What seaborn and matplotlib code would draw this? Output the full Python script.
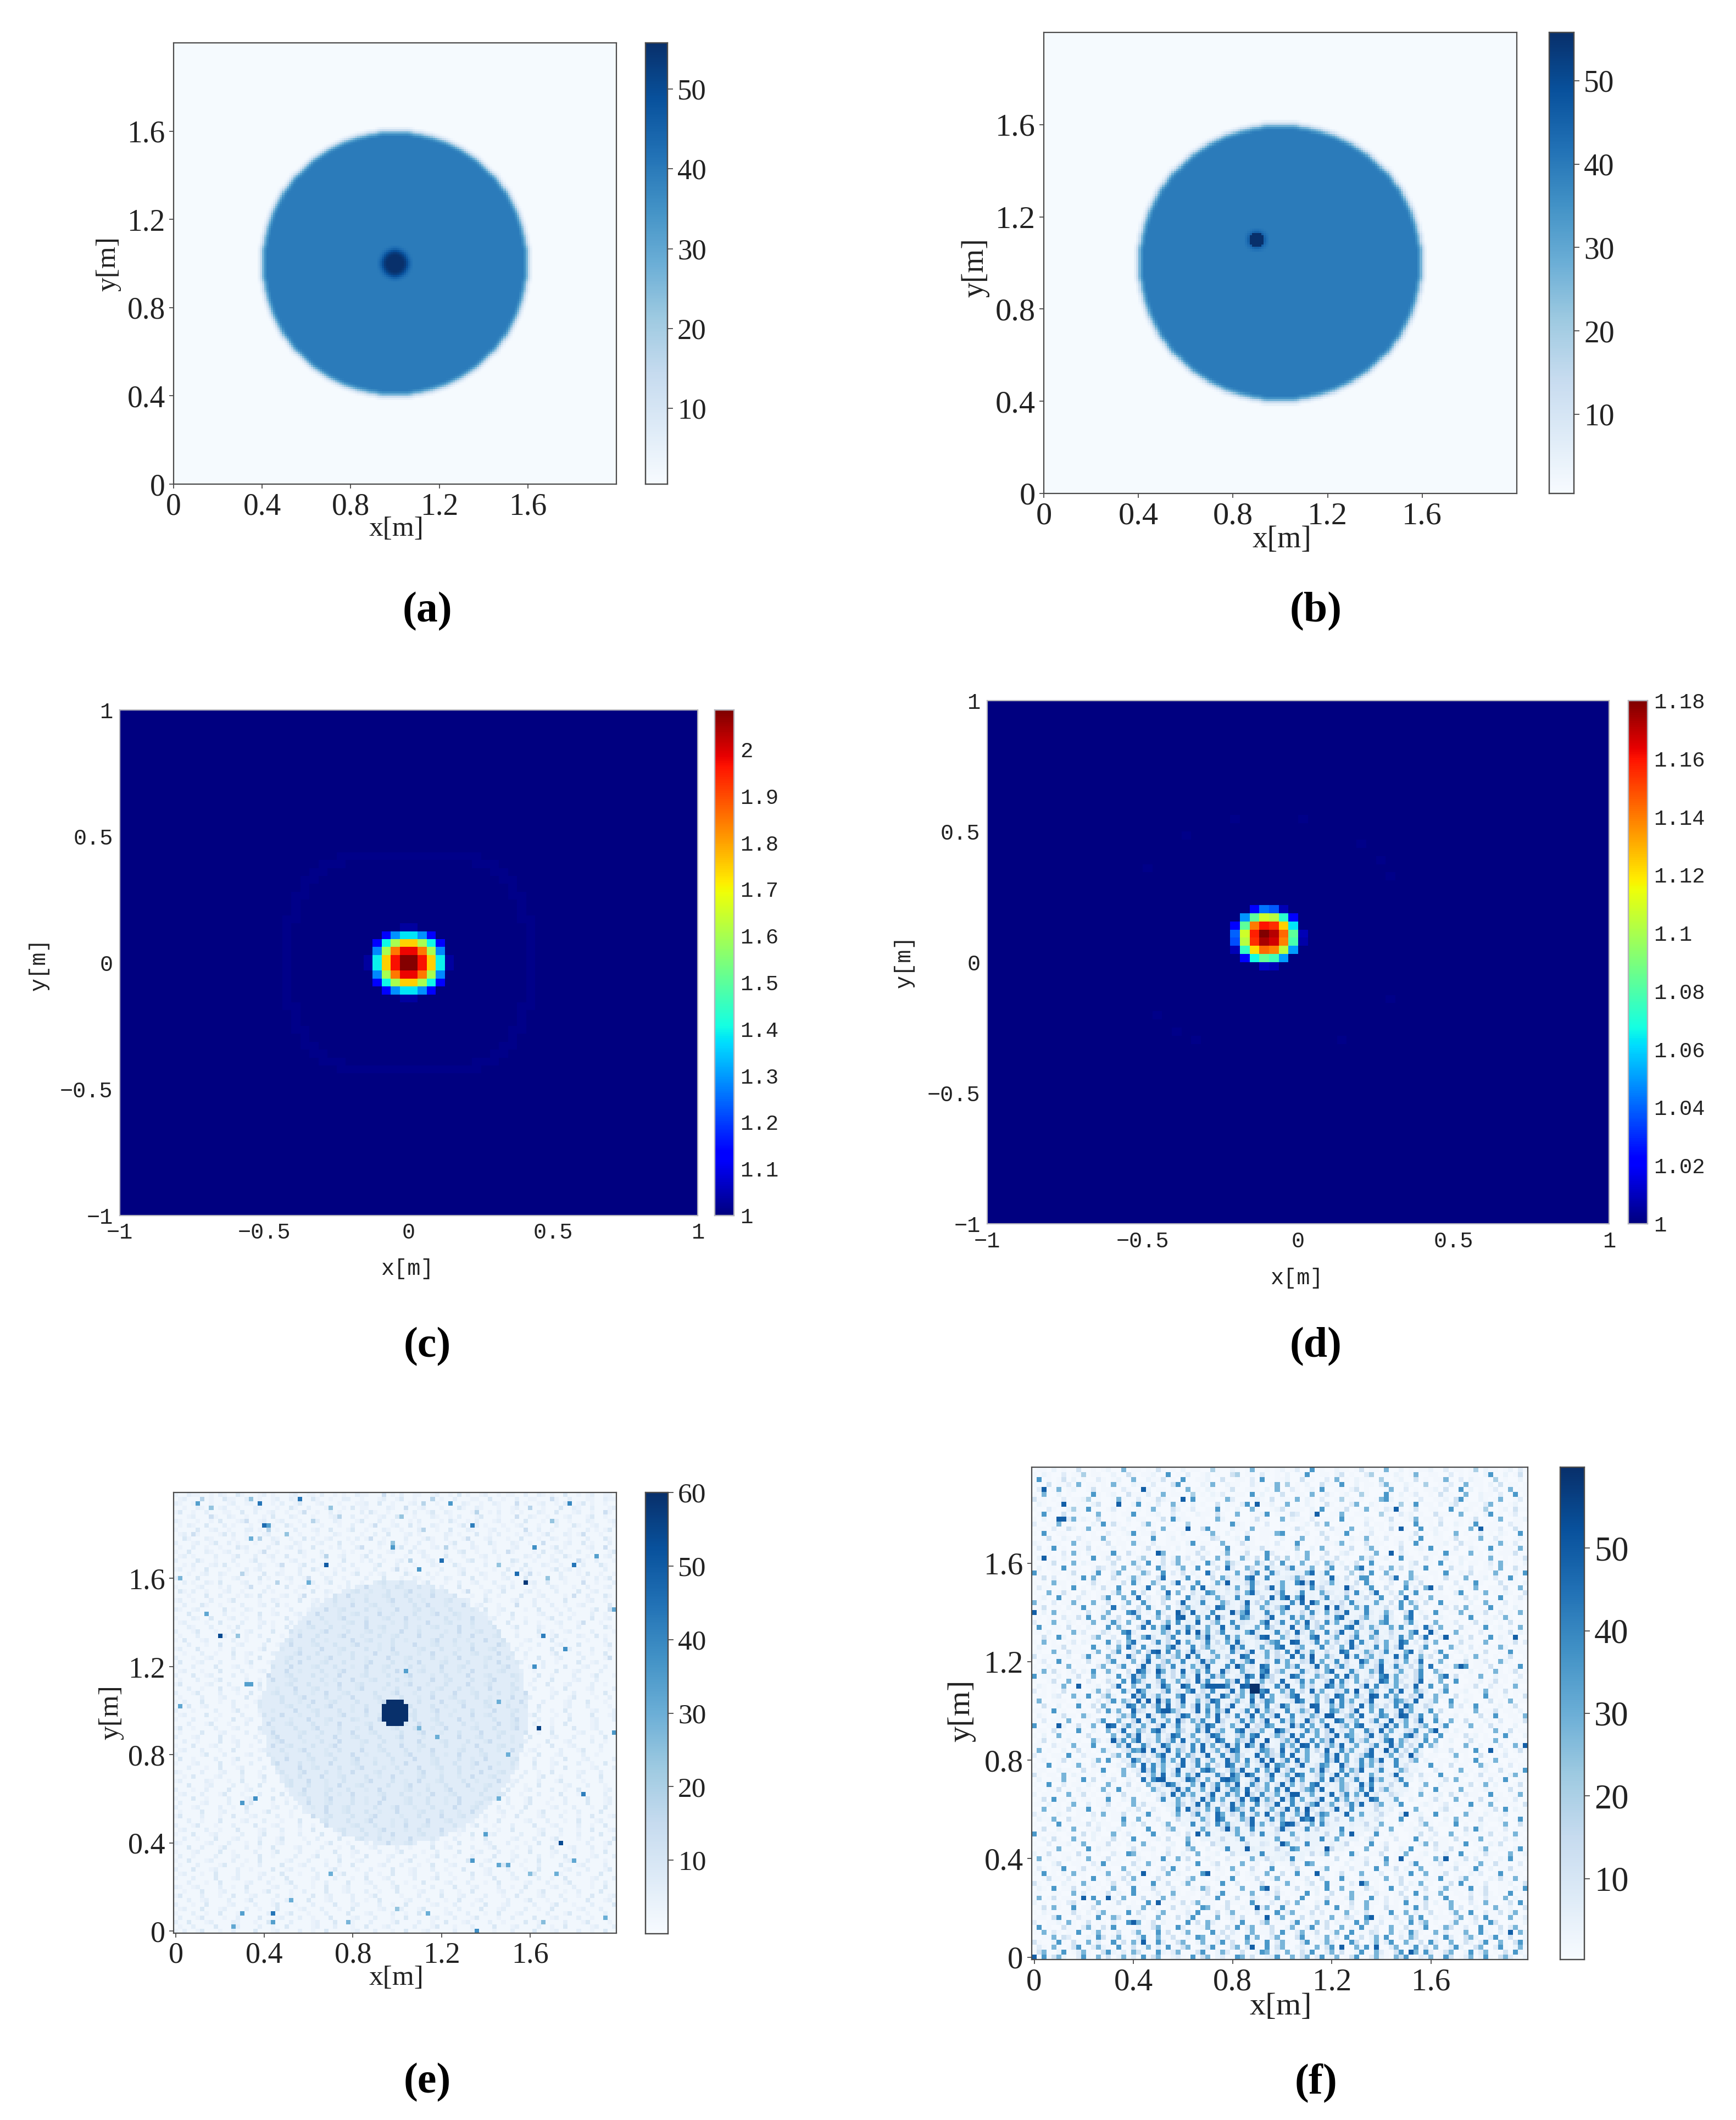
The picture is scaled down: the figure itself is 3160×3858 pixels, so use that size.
import matplotlib
matplotlib.use("Agg")
import matplotlib.pyplot as plt
import numpy as np
import seaborn as sns

W, H = 3160, 3858

disc_half = [60, 60, 60, 60, 60, 60, 60, 60, 59, 59, 59, 59, 59, 58, 58, 58, 58, 57, 57, 57,
             56, 56, 56, 55, 55, 54, 54, 53, 53, 52, 52, 51, 51, 50, 49, 48, 48, 47, 46, 46,
             44, 43, 42, 41, 40, 39, 38, 37, 35, 34, 32, 31, 29, 27, 25, 23, 20, 17, 13, 8]
dot_a_half = [6, 6, 5, 5, 4, 2]
dot_b_half = [3, 3, 2]
bg_value, disc_value, dot_value = 1, 40, 55.8

# reconstructed blobs, top left cell at (27, 27) in c and (25, 25) in d, 64x64 grid
blob_c = [
    [1, 1, 1, 1, 1.03, 1.03, 1, 1, 1, 1],
    [1, 1, 1.13, 1.29, 1.38, 1.38, 1.29, 1.13, 1, 1],
    [1, 1.12, 1.40, 1.60, 1.75, 1.75, 1.60, 1.40, 1.12, 1],
    [1, 1.28, 1.60, 1.85, 1.98, 1.98, 1.85, 1.60, 1.28, 1],
    [1.03, 1.39, 1.75, 1.97, 2.08, 2.08, 1.97, 1.75, 1.39, 1.03],
    [1.03, 1.39, 1.75, 1.97, 2.08, 2.08, 1.97, 1.75, 1.39, 1.03],
    [1, 1.28, 1.60, 1.85, 1.98, 1.98, 1.85, 1.60, 1.28, 1],
    [1, 1.12, 1.40, 1.60, 1.75, 1.75, 1.60, 1.40, 1.12, 1],
    [1, 1, 1.13, 1.29, 1.38, 1.38, 1.29, 1.13, 1, 1],
    [1, 1, 1, 1, 1.03, 1.03, 1, 1, 1, 1],
]
blob_d = [
    [1, 1, 1.020, 1.043, 1.038, 1.009, 1, 1],
    [1, 1.049, 1.083, 1.108, 1.103, 1.072, 1.020, 1],
    [1.020, 1.083, 1.140, 1.160, 1.155, 1.124, 1.063, 1],
    [1.040, 1.108, 1.158, 1.180, 1.171, 1.144, 1.083, 1.009],
    [1.036, 1.103, 1.155, 1.173, 1.167, 1.139, 1.079, 1.007],
    [1.009, 1.074, 1.121, 1.144, 1.139, 1.104, 1.050, 1],
    [1, 1.020, 1.067, 1.085, 1.077, 1.050, 1, 1],
    [1, 1, 1, 1.011, 1.009, 1, 1, 1],
]
ring_c_half = [14, 14, 14, 14, 14, 13, 13, 13, 12, 12, 11, 10, 8, 5]
ring_c_value = 1.01
faint_d = [(14, 25), (14, 32), (16, 20), (17, 38), (19, 40), (21, 41), (20, 16),
           (36, 41), (38, 17), (40, 19), (41, 21), (41, 36)]
faint_d_value = 1.002

# speckle levels; the texture rows are estimated by eye, not cell accurate
e_levels = [2, 4, 6, 9, 13, 18, 24, 32, 42]
f_levels = [1, 2, 4, 7, 12, 20, 28, 36, 44]
noise_disc_half = [30, 30, 30, 30, 30, 29, 29, 29, 29, 28, 28, 28, 27, 27, 26, 26, 25, 24, 24, 23,
                   22, 21, 20, 19, 17, 16, 14, 12, 9, 5]
e_lift = 5
f_lift = 2

e_rows = [
    "1002110010210031000120100012001102001010021100040102001100120010301001200101100200210100300101200110",
    "0120005010031100260100120021000310010022001000120013001000501002000110030010020011000410020001100211",
    "2100130010001200110400102001300012000100011200300100012050010010021001002100040100120010200130100100",
    "0010021060120010002100010031002000160010301100002100400120001000310021000100120050010003002100200012",
    "1300100200011003002001200100140010020100002031001000102001300210000150010200101000210030001200100410",
    "0001200041002100100010300021000100012500200100120036001000210010200013000100040021001000120001300100",
    "2100010010300012400120012000100520002100013000200100010200001031001020001200100300010620010002100012",
    "0102100300020100010020100310020001000100200014000120030100210000130020100010012000100020003100120001",
    "1000030012001000220105010002000120030001300100021001000250010030002100012001000400200100010002010130",
    "0120410000130200100012000600100010002100001002003000120100000210100030010200010120013000210140001000",
    "0031000210000100120500210010030200120001020140010000200013100200014000120001003000100210010002000310",
    "2000120013002010001000130002100012000300100000210600100200100013000200031000210010040000120030100020",
    "0100200100100031200002000120100300010200024000100013002000120501000210001000120002000130100001200400",
    "1003000210012000100140010000310002000010100020001200030120000100230010002004100001030012000200100013",
    "0120100002000130002001200300010001500120001300200000100021000300010001200100000210200100310001000120",
    "2000031001000200013000100012000200100030001020010012050001200010002300100100320001000120000410020001",
    "0010200012030010000210014000130001200100200001300020001000210003100000200600100300021001000020003100",
    "1200100300001000201200001000200310001020010002000140100300002000120010001003002010000130120100000200",
    "0001001200210005100030021000200001002000130010120000310002010000130002100020000140100002000103001001",
    "2100030000100120000301000120014000210010000200030001002100100210000300100012000300006002100010020130",
    "0020100210300001200100050010000200130002001000120002000013000100200120002000100012003000100040010002",
    "1000012000102000140002000300120010000102000300010021000200102000300001000120200001000210001002000120",
    "0310200100012001000020100001000300210000120010002000130000200100014000120030000120100020000300120000",
    "0001000300200010210300001200140000102003000100012000200100300002000100200100003000120000104002000310",
    "1200100020001300000100210000300120002000100200001300020010000120002000310000120002001000300001200100",
    "0020003100100002000120030100000210001000300012000100002003000100030012000100040002000200100120000030",
    "2100120000030100210000100020001000300120000200100030001200100020000100300120000100300010020000130040",
    "0003000100020001000300120001200030000100120000300100002000130002100000200100300000120002001000200100",
    "1000210030001200100200000300100002000130000200012000300100000200100300012000200100001300020000300120",
    "0120000100300002000120100020003000100001200300000100200003000120000200010003000200100012000140001000",
    "0002100020001030000200100300001200020010000300120000200100120000300100002000130000210001000200000310",
    "2000130001000200120000300020100001300002000120010003000200000100300012000200010000300100120000200001",
    "0100020000120060100200001000300020000130001000200120000300002000100300001200020000100130000210030100",
    "1030001200000200100003000120000200100000300120000200100000130002001000300020000120000300100001000200",
    "0002000100300012000020010030000120002000130000100200003000120001000200000310001000200012000300000130",
    "1200030000100200000130001000200003000120000200100300000120002000100300012000020010000300120000200010",
    "0010002001000300120000200001300020000100200003000120000100300002000120000300100200000130000200100300",
    "2000100120000200100300000120002000130000200100003000120000200100300000120002000100300012000020000140",
    "0300012000200000130001000200300001200020000130000200100300001200002000100300012000020010000300120000",
    "1000200003000120010000200030000120002000100300012000020010003000120000200013000010020000300012000200",
    "0120001000300002000120000300100002000130000200010030000120002000100300000120002001000030001200002000",
    "2000300120000200100003000120000200100300001200002000130000100200003000120000210000300100002000130001",
    "0100020001300000200100300012000002001000300012000020010000300120000200013000010002000300001200020000",
    "1300000120002000100300000120002000100300012000002000130001000200003000120000200010003000120000200100",
    "0002001000300120000200010003000120000200013000010020000300012000200100030000120002000100300001200002",
    "2000130000200010030000120002000100300012000002000130001000200003000120000200100300000120002000100300",
    "0100002000120000300100002000130000200100300001200002000100300012000020010000300120000200013000010020",
    "1020003000100200001300002000100300012000020000130001000200003000120000210001003000020000120003000100",
    "0003001200000200100300000120002000130000100200003000120000200100030000120002000100300000120002000010",
    "2000100002000130000200100003000120000200100300001200002000130001000200003000120000200100300000120002",
    "0120000300100002000120003000100020000130000200100300012000020010000300120000200013000010020000300012",
    "1000200001000300120000200010003000120000210000300100002000120000300100002000130000200100030000120002",
    "0002000130001000200003000120000200100300000120002000100300012000020010000300120002000100300000120000",
    "1300100002000120000300100002000130000200010030000120002000100300000120002000130000100200003000120000",
    "0100003000120000200100300000120002000100300012000002000130001000200003000120000200100300000120002000",
    "2000120000300100002000130000200010003000120000200013000010020000300012000200100030000120002000100300",
    "0020010000300120000200013000010002000300001200020001000300001200002000130000100200003000120000200100",
    "1000300012000020010000300120000200013000001000200003000120000200010030000120002000100300012000002000",
    "0120002000100300000120002000130000100200003000120000200100300000120002000100300012000002000130001000",
    "2000001300020000120003000100002000120000300100002000130000200100300001200002000100300012000020010000",
    "0300100002000130000200100300001200002000130001000200003000120000200100300000120002000100300012000002",
    "1000120000300100020000130000200100030000120002000100300000120002000130000100200003000120000200100300",
    "0002000100300012000020010000300120000200013000010020000300012000200100030000120002000100300000120002",
    "2100002000120003000100002000130000200100300001200002000130001000200003000120000200100300000120002000",
    "0010300001200002000130000100200003000120000200100300000120002000100300012000002000130001000200003000",
    "1200000210001003000020000120003000100020000130000200100300012000020010000300120000200013000010002000",
    "0003000120000200100300000120002000100300012000002000130001000200003000120000200100300000120002000100",
    "2000100200003000120000200100030000120002000100300000120002000130000100200003000120000200100300000120",
    "0120002000130001000200003000120000200100300000120002000100300012000002000130001000200003000120000200",
    "1000300100002000120000300100002000130000200100030000120002000100300000120002000130000100200003000120",
    "0200001200002000130000100200003000120000200100300000120002000100300012000002000130001000200003000120",
    "2000120000200100300000120002000100300012000002000130001000200003000120000200100300000120002000100300",
    "0100003000120000200013000010020000300012000200100030000120002000100300000120002000130000100200003000",
    "1300002000100300012000020010000300120000200013000001000200003000120000200010030000120002000100300012",
    "0002001000300001200020001000300001200002000130000100200003000120000200100300000120002000100300012000",
    "2000130001000200003000120000200100300000120002000100300012000002000130001000200003000120000200100300",
    "0120000200100030000120002000100300000120002000130000100200003000120000200100300000120002000100300012",
    "1000300012000002000130001000200003000120000200100300000120002000100300012000002000130001000200003000",
    "0020010003000120000200013000010020000300012000200100030000120002000100300000120002000130000100200003",
    "2100000120002000100300012000002000130001000200003000120000200100300000120002000100300012000002000130",
    "0003002000130000200100300001200002000100300012000020010000300120000200013000010020000300012000200100",
    "1000120000300100002000130000200010003000120000200013000010020000300012000200100030000120002000100300",
    "0200100002000120000300100002000130000200100300001200002000130001000200003000120000200100300000120002",
    "1003000120000200100300000120002000100300012000002000130001000200003000120000200100300000120002000100",
    "0100020000130001000200003000120000200100300000120002000100300012000002000130001000200003000120000200",
    "2000300012000020010000300120000200013000010020000300012000200100030000120002000100300000120002000130",
    "0120001003000020000120003000100020000130000200100300012000020010000300120000200013000001000200003000",
    "1000200003000120000200100300000120002000100300012000002000130001000200003000120000200100300000120002",
    "0002000100300000120002000130000100200003000120000200100030000120002000100300000120002000130000100200",
    "2100120000200100300000120002000100300012000002000130001000200003000120000200100300000120002000100300",
    "0010003000120000200013000010020000300012000200100030000120002000100300000120002000130000100200003000",
    "1300002000100300012000020010000300120000200013000001000200003000120000200010030000120002000100300012",
    "0002001200002000130000100200003000120000200100300000120002000100300012000002000130001000200003000120",
    "2000100300001200002000130001000200003000120000200100300000120002000100300012000002000130001000200003",
    "0120003000120000200100030000120002000100300000120002000130000100200003000120000200100300000120002000",
    "1000200100300012000002000130001000200003000120000200100300000120002000100300012000002000130001000200",
    "0200013000010020000300012000200100030000120002000100300000120002000130000100200003000120000200100300",
    "2003000120000210001003000020000120003000100020000130000200100300012000020010000300120000200013000010",
    "0100200003000120000200100300000120002000100300012000002000130001000200003000120000200100300000120002",
    "1020013000100200003000120000200100300000120002000100300012000002000130001000200003000120000200100300",
]
f_rows = [
    "0110201004001012006011010410102011005100210160010120130070100211014011060020101120030110150211012031",
    "1021003011501100200410112007010300120100450110300102001700110240100350010210160011003010110270020140",
    "0701014020100310120060021140107001120040011030700112004010030601021100500120040101160030211005010020",
    "1004011306011010610021103000470100216002110031001605010200411070020110361002100500113006011020401101",
    "0300160120014011003100720110100601021001400111020600310120700110240100016003010112040070201013006011",
    "1060020100007101200411030060110050102130011070201040011060031012005100071020130010411006002110300701",
    "4110103011250100161003001421001070011006300012104011060210300150101001672011003001120471002101600130",
    "0210016001102400110027010300611020100401103700112006010210041010360021011050170110202400110360101200",
    "1003100251170001300101016000420130011701020061001240111020700114001601032010140011007002101500120411",
    "0171004011000600101170011200301002110410060011270101430021001160011000510031201004111060010270101300",
    "1020110361210400100201100140721100100620010014110060211030111070100210014001260110300110140101600112",
    "3001160010002170410100361001100500110100721011030011001204160011000301102110071010400210170011003110",
    "0110300420160110012001101060011300470100211060110010142001103110600120104011007012010100600111300410",
    "1070011000101003101270114001102000116102010300111670010200410117001130011000140102100601003010210070",
    "0014002103101160010101007001201101004300120710110020116001040010211601030110207001101400116003100120",
    "2100110060120014011061103001110270110061014110010300171001011260100401100130071001120041100011610300",
    "0301701001140100201000140211020111400107100211410110150020610111400261010040012170100300210170011061",
    "1011003061020111700410110260100114120026011400173101020610140023100116002031001011071100601020111400",
    "0260102101007013040102511040261301400613006214070415021600311401006240120071100410130021011060010114",
    "1001401060211001400162070140361121073106421006314071206113064120140071001110240110701020110130610102",
    "0201107011001431206014200731026017001408310640172114700261037114068120316140211700104110300120600411",
    "7100110140102700361101640170314021083012160047017301121680270011503170062110610011070021401106100207",
    "0140300111706100410263110480112702104063120780170112364001208114027700214801631101041106011203017100",
    "1010611020014101104072006311480127101628001473100261071480236101140720013006214001100301171000401102",
    "0311001070102041070101280161104071802103160271048161003172401106300271041007130611401020160011140060",
    "1006014100310110361071400218160041076102140683110470027110632014071048013160271101100370011601021004",
    "0120070103110147006128031146001721410630172101408270164110370216001402710318012061110114020100700131",
    "6100301161006014102610721040138012700164103814062110728016103140721006214071630410701100200611030110",
    "0140110201701120813004172016014621130872104700631468011702140831062710041271061001130406011070110210",
    "1020601011040126001784120731064180217001246810173062104172061438001720163014802107101160211400301061",
    "0101103114070162140037102614083106170840127630148010726140031782014610372106801410210010700112061001",
    "3001600210116012730610481036170218014600713210680370162814072601483021671004721016011300140210104011",
    "0710110401021007162004817260013741062180372016074121803714600127814063106172031840611041101701201060",
    "1102001061300142017831002164072810361470120683102714083162071480260137014102680173101601003010114021",
    "0041072010114601300712683014700216483017261024870163140278013601471064103172604801301120400170210100",
    "1060100130210017140682103714081620371406283102146700182137061403817204160287130416011041100600111403",
    "0210114011007103162840710216830170462130847102613780146002713061840217061482013701006210301011620110",
    "1100600411102601470136048217061384106210731480261407183261040187012641372006814103710120110400107011",
    "4011011200371006212840170631460827013614008712160430817240163108270461310827016240171002061101014001",
    "0130171011040114702160381046217003846102713680140726104381602714008613720416038012610114011300621010",
    "1002001601100360147103820641703162480017246130870216470138160473106214802731406180021607011040101170",
    "0160410130217016200418730261408136270184106321780461027314068012730164820361047106301010201106101401",
    "7011020114006102170384610731406218037461023870164102873016420718360140782613047102681401106002110030",
    "1001400611031014207186301470261408372016480713624081037260148173061402871630148021601700112014010211",
    "0210116007011201481060271386104721684017302816401738106240187362014807132604180271060101140031100600",
    "3010104011002614017308621047131680427103816240780163714082610437180264017381064210370112001601040111",
    "0110230061170146201084713621068014370286146073816024780136140872163048172610438016210401100711020104",
    "1600111002101303716408261047138016248710362081476001387216048173602481013764280136017102100140106011",
    "0041020117014062013871604728136048162703810264170386124078016372408163140728610431006130171001201400",
    "1100701001100417261084301720641038172648013708264107136408217630481060721384610270410110060114011020",
    "0210014110621002136470183162048713062804170381624801703264178014628013760418237016011201004017001106",
    "1030110600110471062148037126084163720841037261480173602841601872360147028136048017206104110210300114",
    "7001102014016012804731620481372016487130621804376012847160382146078012483716024610370011601041100200",
    "0110411007102106138026417830164027381460178243601874102736048132601740826103471064120210011006104011",
    "1020060110140110613748021603871260148731046278103641827016043817620481361027840610701104120100171002",
    "0140101201006312047168032614708136240871064382170146380271648013724610378164021706012001410116010100",
    "1100311060117001263801740286134071826048370162840173612807146380260147128360417063011006102010300611",
    "0601002014010162103476018238164072813604871203764180372614081273610480263714061002114011070011020141",
    "3010110700311001460721403682170641380271463018264370812610473816024780136041732011001601004101130010",
    "0120014011002607013286140372608147036128460713826047183601274816037264801710460210110201170016001101",
    "1007010016103101120460817362048137160428713602481763048213761084027361400713001170104011006210103011",
    "0110021100401170016023847160381240786103648127063814702163840172648013710264011003100160101200410017",
    "4101106021011020106104136280471638012740863172048136287014603817240162013801204110700112014011002601",
    "0200116001704011300210817462013874061283760148237014826013708461372084610371002101140610011030170011",
    "1017003011021006101401062148730162804716380274160382614078031264108370214017001600211011401602010140",
    "0101140102110160170112006310483712604813762804361728014673801264037180462011103007011060011211004011",
    "2011000601401003104110120140827361048127360841723604871261038047162813004211106011204103110070101160",
    "0140711020110117002160100370162041837260148173264083716024801736041287011600210014100601014002110300",
    "1102010160030114010061411001264038172041836027143801720468136204738014601170001210130110701160011104",
    "0060110401170021100214003100170834162703864172036148271630413820711004102011060010241001200114070211",
    "3110021001103060114010271100261047130861427036180471263804761028016011401030112007011006110210130011",
    "0211600411002010117006011300140121630871026480137261408701620410612003101170014110020610114011200171",
    "1001070101140211006120401026011070140736210482613071840260731100211400611020103610110701002100160041",
    "0140021060011301120110070014610011620140360171200483102714011070100214016001121041001104172011030101",
    "7101100110402100601300117010120410071001261040711300610211040060110017102100114013006002101140110610",
    "0120410061102011401070011204001610110140027100110600140211701600110240010300171020110410116001031201",
    "1003011201600114010210610011200710104111001400320106100711002014011070130011002604110017010021400110",
    "0110160010070211100140112003101460020117001021100410760110014021100601140021700103114011002600110271",
    "2014001104110100310761001014102106011200401101700113001040260110720011400116001201031070010411006012",
    "0601101201060014011002101170061400121003110160041120701001110400211300170140011006210114030110217001",
    "1100240011003170110041061002110117002401106012003011410760011002011401060110370011400211006104110030",
    "0310117001400211006002110140710300110210610041017001140011260010311007011402106001101400171020114001",
    "1070102061100116010400310116021001740110030121160040171002110140016010300211700601140110213001700110",
    "0014110300107002114061001410110360101201700114002601101300410171002111060140010211700136010021410601",
    "4101002110610101400311007014002610110171030011400116100240071100310601011040216010014070110300112014",
    "0210701140021010610070114110310021641001006011701300140112070160100421017003011400261101701400110217",
    "1100110060310114021071001300610110140271001160031410110702004010611003110140070211600110301410107001",
    "0601401101007011206001401160301100211700140032110601017001041102610071030114020610170011400311060210",
    "2010110341011600141010070211014036011004110172003114061002170110400611030107011402016100310610014071",
    "0140610070114001100211603101401200761014002110360171002104110701300610041102171400116030021006112004",
    "1021001141020360110704100260011317001402610104110713600140301106021400117006031140102601700311402601",
    "0110471003110701640011200611040270110601314001170260014021106014300710211400617002110360140711006013",
    "3001120610140110300716014021100714063100217001460110371006140210170611300120714601002610130174001102",
    "0701004110361041701002114601073001261104170360114002610371140060217013006104112700164013007110403610",
    "1060310117002610140036110714002611007140310260114071036014002610701143006021741006130116007210314062",
    "0011604300121740261003710611400217601304110726013610047102160307114026170031640112073104620137014002",
    "4100271041061300714062011730146002610371400621170361004710263011740026137006214073106014203710610472",
    "0310610147003621070140261307114600237101460321071460023106147130062714003610271406013720146003710261",
    "1460027013610047213064100721360014710263014002761306104271036140027106310470261730146002713601040721",
    "0071462003710614026130714600231071460230176140023710614603712601470036210647103260174013602710463102",
]
e_spots = [(2, 5, 34), (2, 19, 44), (1, 28, 44), (2, 62, 36), (2, 89, 40), (7, 20, 46), (7, 21, 34), (7, 67, 42),
           (10, 17, 30), (12, 49, 36), (12, 81, 38), (16, 34, 50), (15, 60, 46), (17, 55, 36), (16, 90, 44),
           (14, 95, 34), (18, 77, 46), (20, 79, 58), (20, 30, 30), (19, 1, 28), (26, 99, 32), (27, 7, 32),
           (32, 10, 54), (32, 83, 42), (35, 88, 38), (39, 81, 38), (43, 16, 34), (43, 17, 34), (40, 52, 34),
           (48, 1, 32), (47, 73, 30), (53, 82, 56), (54, 99, 36), (55, 59, 30), (53, 55, 28), (59, 75, 30),
           (68, 92, 42), (69, 73, 30), (70, 15, 36), (69, 18, 38), (77, 70, 34), (79, 87, 54), (83, 67, 36),
           (84, 73, 32), (84, 75, 32), (83, 90, 32), (86, 35, 30), (86, 86, 30), (86, 80, 26), (92, 26, 30),
           (95, 15, 34), (95, 22, 44), (95, 57, 30), (94, 50, 24), (97, 22, 34), (98, 13, 32), (97, 39, 28),
           (99, 68, 38), (96, 97, 30), (97, 83, 26)]
e_dot_cols = [(48, 52), (47, 53), (47, 53), (47, 53), (47, 53), (48, 52)]
e_dot_first_row = 47
e_dot_value = 60
f_spots = [(4, 2), (4, 22), (6, 30), (7, 6), (7, 17), (7, 45), (10, 5), (10, 6), (9, 57), (8, 73), (12, 31), (12, 74),
           (12, 90), (18, 2), (17, 25), (17, 72), (23, 39), (23, 54), (24, 63), (24, 80), (26, 51), (26, 54), (28, 59),
           (27, 56), (29, 29), (29, 40), (29, 0), (30, 30), (32, 27), (33, 33), (33, 80), (34, 97), (34, 83), (34, 47),
           (35, 52), (37, 25), (38, 56), (40, 86), (40, 41), (41, 25), (42, 46), (44, 9), (44, 30), (44, 35), (44, 36),
           (44, 37), (44, 38), (44, 42), (45, 65), (46, 68), (47, 23), (47, 25), (49, 26), (49, 27), (48, 56), (50, 59),
           (50, 60), (50, 74), (52, 15), (52, 5), (53, 81), (53, 49), (55, 16), (55, 47), (56, 43), (56, 54), (57, 22),
           (58, 76), (57, 92), (56, 99), (57, 71), (59, 48), (63, 25), (63, 26), (63, 39), (62, 43), (66, 43), (67, 45),
           (66, 52), (66, 53), (69, 55), (70, 75), (71, 56), (73, 39), (72, 51), (74, 64), (74, 33), (76, 50), (77, 59),
           (77, 43), (79, 74), (79, 83), (82, 22), (82, 35), (82, 57), (85, 47), (84, 66), (87, 10), (87, 15), (88, 25),
           (89, 45), (92, 20), (91, 47), (91, 68), (94, 96), (96, 22), (97, 69), (98, 76), (97, 62), (97, 44), (99, 0)]
f_spot_value = 49
f_peak = [(44, 44), (44, 45), (45, 44), (45, 45)]
f_peak_value = 59.8

ticks_m = [0, 0.4, 0.8, 1.2, 1.6]
tick_m_labels = ["0", "0.4", "0.8", "1.2", "1.6"]
ticks_u = [-1, -0.5, 0, 0.5, 1]
tick_u_labels = ["\u22121", "\u22120.5", "0", "0.5", "1"]
cbar_blue = [10, 20, 30, 40, 50]
cbar_blue_labels = ["10", "20", "30", "40", "50"]
cbar_e = [10, 20, 30, 40, 50, 60]
cbar_e_labels = ["10", "20", "30", "40", "50", "60"]
cbar_c = [1, 1.1, 1.2, 1.3, 1.4, 1.5, 1.6, 1.7, 1.8, 1.9, 2]
cbar_c_labels = ["1", "1.1", "1.2", "1.3", "1.4", "1.5", "1.6", "1.7", "1.8", "1.9", "2"]
cbar_d = [1, 1.02, 1.04, 1.06, 1.08, 1.1, 1.12, 1.14, 1.16, 1.18]
cbar_d_labels = ["1", "1.02", "1.04", "1.06", "1.08", "1.1", "1.12", "1.14", "1.16", "1.18"]
panel_names = ["(a)", "(b)", "(c)", "(d)", "(e)", "(f)"]

sns.set_theme(style="white")
plt.rcParams["font.family"] = ["Liberation Serif", "DejaVu Sans"]
fig = plt.figure(figsize=(W / 100, H / 100), dpi=100, facecolor="white")


def box(left, right, top, bottom):
    return fig.add_axes([left / W, 1 - bottom / H, (right - left) / W, (bottom - top) / H])


def stamp(grid, half, cx, cy, value):
    for k, hw in enumerate(half):
        grid[cy - 1 - k, cx - hw:cx + hw] = value
        grid[cy + k, cx - hw:cx + hw] = value


def soften(grid):
    # the reference is a blurry upscale, so take the stair steps off the disc edge
    out = grid.copy()
    for _ in range(2):
        out = sum(np.roll(np.roll(out, i, 0), j, 1) for i in (-1, 0, 1) for j in (-1, 0, 1)) / 9
    return out


def speckle(rows, levels, lift):
    grid = np.array([[levels[int(c)] for c in r.ljust(100, "1")[:100]] for r in rows], dtype=float)
    mask = np.zeros_like(grid)
    stamp(mask, noise_disc_half, 50, 50, 1)
    return grid + lift * mask


def draw(grid, ax_box, cbar_box, cmap, vmin, vmax, xt, xl, yt, yl, cbt, cbl, font, size, cb_size, style):
    ax = box(*ax_box)
    cax = box(*cbar_box)
    sns.heatmap(grid, ax=ax, cbar_ax=cax, cmap=cmap, vmin=vmin, vmax=vmax,
                xticklabels=False, yticklabels=False, linewidths=0)
    ax.set_xticks(xt)
    ax.set_xticklabels(xl, rotation=0, family=font, fontsize=size)
    ax.set_yticks(yt)
    ax.set_yticklabels(yl, rotation=0, family=font, fontsize=size)
    cax.set_yticks(cbt)
    cax.set_yticklabels(cbl, family=font, fontsize=cb_size)
    if style == "matlab":
        edge, lw = "#b4b4bc", 1.6
        ax.tick_params(direction="in", length=5, width=0.8, color="#30305a", pad=9, top=True, right=True,
                       labelcolor="#222222")
        cax.tick_params(direction="in", length=5, width=0.8, color="#333333", pad=8, labelcolor="#222222", right=True)
    else:
        edge, lw = "#4a4a4a", 1.6
        ax.tick_params(direction="out", length=6, width=1.3, color="#4a4a4a", pad=5, labelcolor="#222222",
                       bottom=True, left=True)
        cax.tick_params(direction="out", length=7, width=1.3, color="#4a4a4a", pad=6, labelcolor="#222222", right=True)
    for spine in list(ax.spines.values()) + list(cax.spines.values()):
        spine.set_visible(True)
        spine.set_color(edge)
        spine.set_linewidth(lw)
    return ax


def label(x, y, text, font, size, rotation=0, weight="normal"):
    fig.text(x / W, 1 - y / H, text, family=font, fontsize=size, rotation=rotation, weight=weight,
             ha="center", va="center", color="#222222" if weight == "normal" else "black")


serif = "Liberation Serif"
mono = "Liberation Mono"

# a
grid_a = np.full((200, 200), float(bg_value))
stamp(grid_a, disc_half, 100, 100, disc_value)
stamp(grid_a, dot_a_half, 100, 100, dot_value)
grid_a = soften(grid_a)
# b
grid_b = np.full((200, 200), float(bg_value))
stamp(grid_b, disc_half, 100, 100, disc_value)
stamp(grid_b, dot_b_half, 90, 90, dot_value)
grid_b_dot = grid_b.copy()
grid_b = soften(grid_b)
grid_b[grid_b_dot == dot_value] = dot_value
# c
grid_c = np.ones((64, 64))
for k, hw in enumerate(ring_c_half):
    prev = ring_c_half[k - 1] if k else hw
    for rr in (31 - k, 32 + k):
        for span in range(hw, prev + 1):
            grid_c[rr, 32 - span] = ring_c_value
            grid_c[rr, 31 + span] = ring_c_value
grid_c[18, 32 - ring_c_half[-1]:32 + ring_c_half[-1]] = ring_c_value
grid_c[45, 32 - ring_c_half[-1]:32 + ring_c_half[-1]] = ring_c_value
grid_c[27:37, 27:37] = blob_c
# d
grid_d = np.ones((64, 64))
for r, c in faint_d:
    grid_d[r, c] = faint_d_value
grid_d[25:33, 25:33] = blob_d
# e
grid_e = speckle(e_rows, e_levels, e_lift)
for r, c, v in e_spots:
    grid_e[r, c] = v
for i, (c0, c1) in enumerate(e_dot_cols):
    grid_e[e_dot_first_row + i, c0:c1] = e_dot_value
# f
grid_f = speckle(f_rows, f_levels, f_lift)
for r, c in f_spots:
    grid_f[r, c] = f_spot_value
for r, c in f_peak:
    grid_f[r, c] = f_peak_value

edge_x = [v * 100 for v in ticks_m]
edge_y = [200 - v * 100 for v in ticks_m]
mid_x = [v * 50 + 0.5 for v in ticks_m]
mid_y = [99.5 - v * 50 for v in ticks_m]
unit_x = [(v + 1) * 32 for v in ticks_u]
unit_y = [(1 - v) * 32 for v in ticks_u]

draw(grid_a, (316, 1122, 78, 881), (1175, 1215, 78, 881), "Blues", 0.5, 55.8, edge_x, tick_m_labels, edge_y,
     tick_m_labels, cbar_blue, cbar_blue_labels, serif, 40, 38, "py")
draw(grid_b, (1900, 2761, 59, 898), (2820, 2865, 59, 898), "Blues", 0.5, 55.8, edge_x, tick_m_labels, edge_y,
     tick_m_labels, cbar_blue, cbar_blue_labels, serif, 42, 40, "py")
draw(grid_c, (218, 1270, 1292, 2212), (1301, 1336, 1292, 2212), "jet", 1, 2.085, unit_x, tick_u_labels, unit_y,
     tick_u_labels, cbar_c, cbar_c_labels, mono, 29, 28, "matlab")
draw(grid_d, (1797, 2929, 1275, 2227), (2964, 2999, 1275, 2227), "jet", 1, 1.18, unit_x, tick_u_labels, unit_y,
     tick_u_labels, cbar_d, cbar_d_labels, mono, 29, 28, "matlab")
draw(grid_e, (316, 1122, 2716, 3518), (1175, 1216, 2716, 3519), "Blues", 0, 60, mid_x, tick_m_labels, mid_y,
     tick_m_labels, cbar_e, cbar_e_labels, serif, 39, 37, "py")
draw(grid_f, (1878, 2781, 2670, 3566), (2840, 2884, 2670, 3566), "Blues", 0.2, 59.8, mid_x, tick_m_labels, mid_y,
     tick_m_labels, cbar_blue, cbar_blue_labels, serif, 41, 45, "py")

label(721, 963, "x[m]", serif, 37)
label(197, 480, "y[m]", serif, 37, rotation=90)
label(2333, 982, "x[m]", serif, 40)
label(1775, 487, "y[m]", serif, 40, rotation=90)
label(741, 2309, "x[m]", mono, 29)
label(71, 1755, "y[m]", mono, 29, rotation=90)
label(2360, 2326, "x[m]", mono, 29)
label(1646, 1750, "y[m]", mono, 29, rotation=90)
label(721, 3600, "x[m]", serif, 37)
label(202, 3116, "y[m]", serif, 37, rotation=90)
label(2331, 3652, "x[m]", serif, 42)
label(1750, 3113, "y[m]", serif, 42, rotation=90)

name_xy = [(778, 1113), (2395, 1113), (778, 2451), (2395, 2451), (778, 3790), (2395, 3790)]
for (x, y), name in zip(name_xy, panel_names):
    label(x, y, name, serif, 56, weight="bold")

fig.savefig("out.png", dpi=100, facecolor="white")
